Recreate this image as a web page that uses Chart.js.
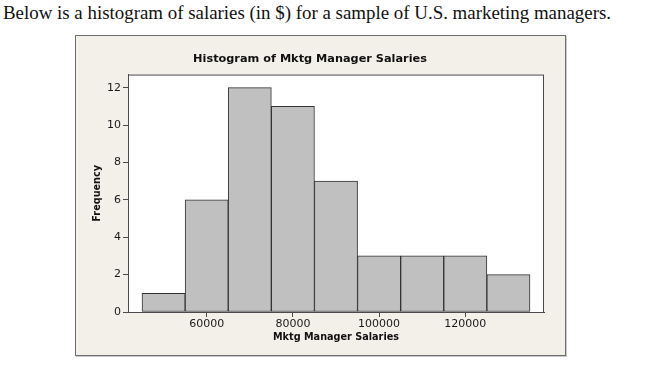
<!DOCTYPE html>
<html>
<head>
<meta charset="utf-8">
<script src="https://cdn.jsdelivr.net/npm/chart.js@4.4.1/dist/chart.umd.min.js"></script>
<style>
  html, body { margin: 0; padding: 0; background: #fff; }
  body { width: 650px; height: 369px; position: relative; overflow: hidden; }
  .intro {
    position: absolute; left: 3px; top: 2px;
    font-family: 'Liberation Serif', 'Times New Roman', serif;
    font-size: 18.9px; line-height: 21px; color: #111; white-space: nowrap;
  }
  .box {
    position: absolute; left: 75px; top: 35px;
    width: 489px; height: 319px;
    border: 1px solid #6e6e6e;
    box-shadow: 1px 1px 0 #c9c9c9;
    background: #f3efe9;
  }
</style>
</head>
<body>
<div class="intro">Below is a histogram of salaries (in $) for a sample of U.S. marketing managers.</div>
<div class="box"><canvas id="hist"></canvas></div>
<script>
// bins are 10000 wide, centred on these salaries
const binCenters = [50000, 60000, 70000, 80000, 90000, 100000, 110000, 120000, 130000];
const frequencies = [1, 6, 12, 11, 7, 3, 3, 3, 2];
const xTicks = [60000, 80000, 100000, 120000];
const yTicks = [0, 2, 4, 6, 8, 10, 12];

const chartTitle = 'Histogram of Mktg Manager Salaries';
const xTitle = 'Mktg Manager Salaries';
const yTitle = 'Frequency';

const font = "'DejaVu Sans', Verdana, sans-serif";
const ink = '#1a1a1a';
const frame = '#4a4a4a';

// white plot area with a frame round it
const plotFrame = {
  id: 'plotFrame',
  beforeDraw(chart) {
    const { ctx, chartArea: { left, top, width, height } } = chart;
    ctx.save();
    ctx.fillStyle = '#fff';
    ctx.fillRect(left, top, width, height);
    ctx.restore();
  },
  afterDraw(chart) {
    const { ctx, chartArea: { left, top, width, height } } = chart;
    ctx.save();
    ctx.strokeStyle = frame;
    ctx.lineWidth = 1;
    ctx.strokeRect(left + 0.5, top + 0.5, width - 1, height);
    ctx.restore();
  },
};

const points = binCenters.map((x, i) => ({ x, y: frequencies[i] }));

new Chart(document.getElementById('hist'), {
  type: 'bar',
  data: {
    datasets: [{
      data: points,
      backgroundColor: '#c0c0c0',
      borderColor: '#333',
      borderWidth: 1,
      borderSkipped: false,
      barPercentage: 1,
      categoryPercentage: 1,
    }],
  },
  options: {
    responsive: true,
    maintainAspectRatio: false,
    animation: false,
    layout: { padding: { left: 0, right: 21, top: 0, bottom: 0 } },
    plugins: {
      legend: { display: false },
      tooltip: { enabled: false },
      title: {
        display: true,
        text: chartTitle,
        color: '#111',
        font: { family: font, size: 11.3, weight: 'bold' },
        padding: { top: 16, bottom: 9 },
      },
    },
    scales: {
      x: {
        type: 'linear',
        min: 41750,
        max: 138250,
        offset: false,
        afterFit(scale) { scale.height = 43; },
        afterBuildTicks(scale) { scale.ticks = xTicks.map((value) => ({ value })); },
        grid: {
          offset: false,
          drawOnChartArea: false,
          drawTicks: true,
          tickLength: 5,
          color: frame,
        },
        border: { color: frame },
        ticks: {
          color: ink,
          font: { family: font, size: 11 },
          padding: 1,
          maxRotation: 0,
          autoSkip: false,
          callback: (v) => String(v),
        },
        title: {
          display: true,
          text: xTitle,
          color: '#111',
          font: { family: font, size: 9.7, weight: 'bold' },
          padding: { top: 0, bottom: 12 },
        },
      },
      y: {
        min: 0,
        max: 12.7,
        afterFit(scale) { scale.width = 52; },
        afterBuildTicks(scale) { scale.ticks = yTicks.map((value) => ({ value })); },
        grid: {
          drawOnChartArea: false,
          drawTicks: true,
          tickLength: 5,
          color: frame,
        },
        border: { color: frame },
        ticks: {
          color: ink,
          font: { family: font, size: 11 },
          padding: 2,
          callback: (v) => String(v),
        },
        title: {
          display: true,
          text: yTitle,
          color: '#111',
          font: { family: font, size: 9.7, weight: 'bold' },
          padding: { top: 16, bottom: 0 },
        },
      },
    },
  },
  plugins: [plotFrame],
});
</script>
</body>
</html>
